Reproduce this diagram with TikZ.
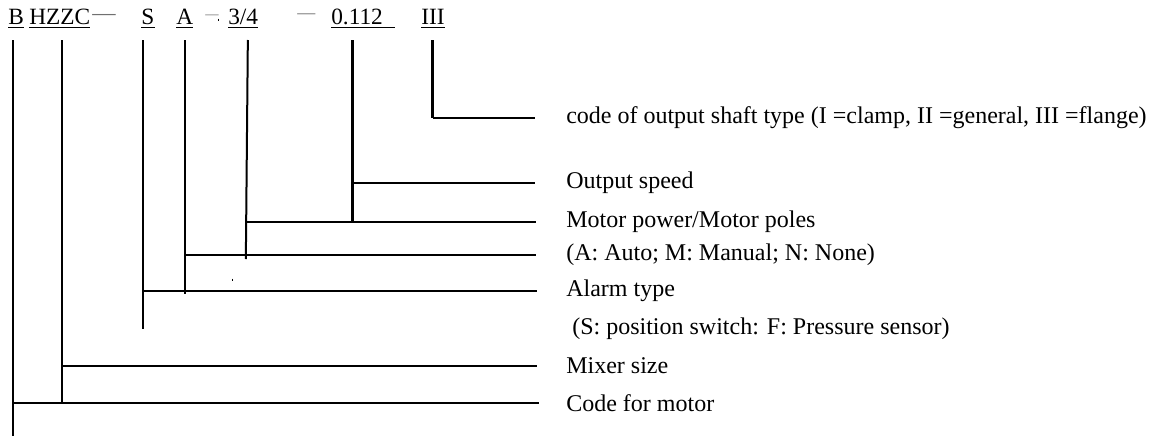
\documentclass[tikz,border=0pt]{standalone}
\usepackage{fontspec}
\setmainfont{Liberation Serif}
\usetikzlibrary{positioning}
\definecolor{dashgray}{HTML}{707070}

\begin{document}
\begin{tikzpicture}[
    x=0.75pt, y=-0.75pt,
    codepart/.style={
        inner sep=0pt,
        anchor=base west,
        font=\fontsize{17.5}{20}\selectfont,
    },
    dashmark/.style={
        inner sep=0pt,
        anchor=base west,
        text=dashgray,
        font=\fontsize{17.5}{20}\selectfont,
    },
    meaning/.style={
        inner sep=0pt,
        anchor=west,
        font=\fontsize{18}{21}\selectfont,
    },
    uline/.style={line width=0.8pt},
    lead/.style={line width=2.2pt},
    leadthin/.style={line width=1.5pt},
]

\useasboundingbox (0,0) rectangle (1150,436);

% Type code
\node[codepart] (hB) at (8,24.5) {B};
\node[codepart] (hHZZC) at (29,24.5) {HZZC};
\node[dashmark] (d1) at (92,20) {—};
\node[codepart] (hS) at (141,24.5) {S};
\node[codepart] (hA) at (176,24.5) {A};
\node[dashmark, font=\fontsize{10}{12}\selectfont] (d2) at (205,18) {—};
\node[codepart] (h34) at (228,24.5) {3/4};
\node[dashmark, font=\fontsize{13.5}{16}\selectfont] (d3) at (297,18) {—};
\node[codepart] (h0112) at (331,24.5) {0.112\kern9pt};
\node[codepart] (hIII) at (421,24.5) {III};

% Underlines
\foreach \n in {hB, hHZZC, hS, hA, h34, h0112, hIII}
    \draw[uline] ([yshift=-2.4pt]\n.base west) -- ([yshift=-2.4pt]\n.base east);

% Stray ticks
\draw[line width=0.6pt] (218,18.5) -- (218,21);
\draw[line width=0.6pt] (232,278.5) -- (232,281);

% Meanings
\node[meaning] (mIII) at (566,118) {code of output shaft type (I =clamp, II =general, III =flange)};
\node[meaning] (m0112) at (566,183) {Output speed};
\node[meaning] (m34) at (566,222) {Motor power/Motor poles};
\node[meaning] (mA) at (566,255) {(A: Auto; M: Manual; N: None)};
\node[meaning] (mS) at (566,291) {Alarm type};
\node[meaning] (mS2) at (572,329) {(S: position switch: F: Pressure sensor)};
\node[meaning] (mHZZC) at (566,366) {Mixer size};
\node[meaning] (mB) at (566,403) {Code for motor};

\coordinate (top) at (0,40);

% Leaders
\draw[leadthin] ([xshift=-2pt]hB.base |- top) -- ([xshift=-2pt]hB.base |- 0,436);
\draw[lead] ([xshift=-2pt]hB.base |- mB.west) -- ([xshift=-20.5pt]mB.west);

\draw[leadthin] ([xshift=2pt]hHZZC.base |- top) -- ([xshift=2pt]hHZZC.base |- mB.west);
\draw[lead] ([xshift=2pt]hHZZC.base |- mHZZC.west) -- ([xshift=-21.5pt]mHZZC.west);

\draw[leadthin] ([xshift=-3.4pt]hS.base |- top) -- ([xshift=-3.4pt]hS.base |- mS2.west);
\draw[lead] ([xshift=-3.4pt]hS.base |- mS.west) -- ([xshift=-22pt]mS.west);

\draw[leadthin] (hA.base |- top) -- ([yshift=-2.25pt]hA.base |- mS.west);
\draw[lead] (hA.base |- mA.west) -- ([xshift=-22.5pt]mA.west);

\draw[leadthin] ([xshift=3.5pt]h34.base |- top) -- ([xshift=2pt,yshift=-3pt]h34.base |- mA.west);
\draw[lead] ([xshift=2pt]h34.base |- m34.west) -- ([xshift=-22.5pt]m34.west);

\draw[lead] ([xshift=-8pt]h0112.base |- top) -- ([xshift=-8pt]h0112.base |- m34.west);
\draw[lead] ([xshift=-8pt]h0112.base |- m0112.west) -- ([xshift=-23pt]m0112.west);

\draw[lead] (hIII.base |- top) -- (hIII.base |- mIII.west);
\draw[lead] (hIII.base |- mIII.west) -- ([xshift=-23.5pt]mIII.west);

\end{tikzpicture}
\end{document}
